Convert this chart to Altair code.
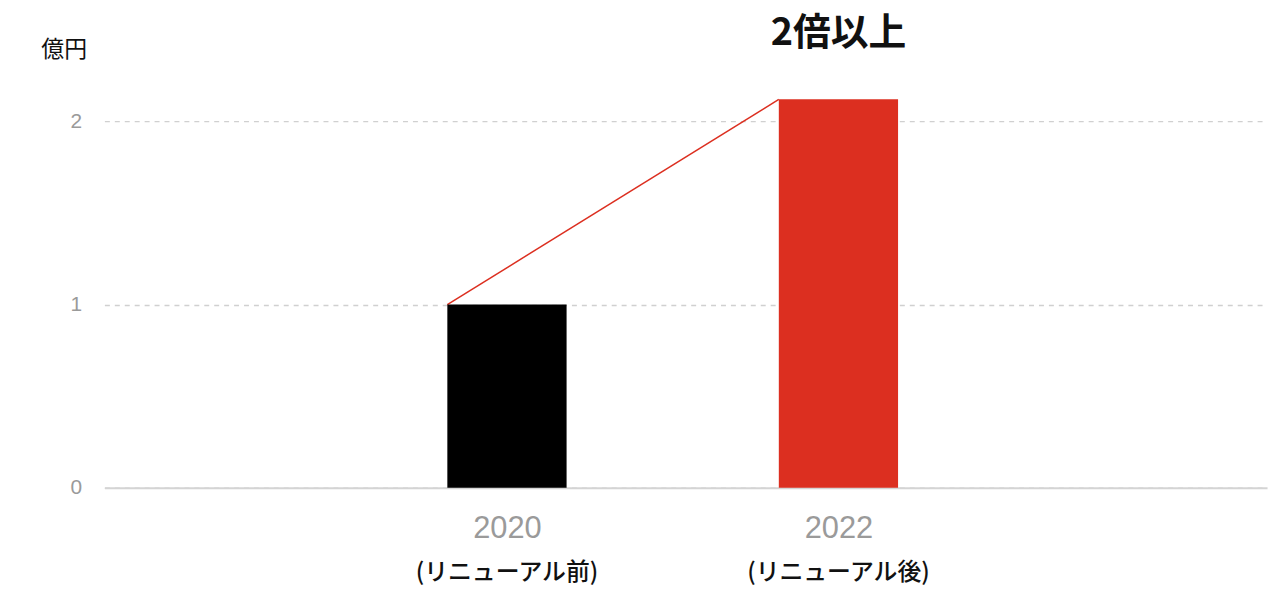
import altair as alt
import pandas as pd

years = [2020, 2022]
values = [1.0, 2.12]
sublabels = ["(リニューアル前)", "(リニューアル後)"]
bar_colors = ["#000000", "#dc2f20"]
y_ticks = [0, 1, 2]
headline = "2倍以上"
unit = "億円"

df = pd.DataFrame({"year": years, "value": values, "sub": sublabels, "color": bar_colors})

JP = "Noto Sans CJK JP"
NUM = "Liberation Sans"

x_scale = alt.Scale(domain=[2017.571, 2024.586], nice=False, zero=False, padding=0)
y_scale = alt.Scale(domain=[0, 2.6085], nice=False, padding=0)

x_axis = alt.Axis(
    values=years, format="d", title=None, grid=False, ticks=False,
    labelFont=NUM, labelFontSize=31, labelColor="#9a9a9a", labelPadding=26,
    domainColor="#d4d4d4", domainWidth=2,
)
y_axis = alt.Axis(
    values=y_ticks, format="d", title=unit, titleAngle=0, titleAlign="center", titleBaseline="middle",
    titleX=-41, titleY=40, titleFont=JP, titleFontSize=23, titleFontWeight="normal",
    titleColor="#111111",
    labelFont=NUM, labelFontSize=21, labelColor="#9a9a9a", labelPadding=23,
    ticks=False, domain=False, grid=True, gridDash=[5, 5], gridColor="#d0d0d0", gridWidth=1.5,
)

base = alt.Chart(df)

bars = base.mark_bar(size=120).encode(
    x=alt.X("year:Q", scale=x_scale, axis=x_axis),
    y=alt.Y("value:Q", scale=y_scale, axis=y_axis),
    color=alt.Color("color:N", scale=None),
)

line = base.mark_line(color="#dc2f20", strokeWidth=1.5, xOffset=-60).encode(
    x=alt.X("year:Q", scale=x_scale),
    y=alt.Y("value:Q", scale=y_scale),
)

subs = base.mark_text(font=JP, fontSize=24, fontWeight=500, color="#111111",
                      baseline="middle", align="center").encode(
    x=alt.X("year:Q", scale=x_scale),
    y=alt.value(567),
    text="sub:N",
)

head_df = pd.DataFrame({"year": [years[-1]], "t": [headline]})
head = alt.Chart(head_df).mark_text(font=JP, fontSize=38, fontWeight="bold", color="#111111",
                                    baseline="middle", align="center").encode(
    x=alt.X("year:Q", scale=x_scale),
    y=alt.value(24),
    text="t:N",
)

chart = alt.layer(line, bars, subs, head).properties(
    width=1170, height=481,
    background="white",
    autosize=alt.AutoSizeParams(type="none"),
    padding={"left": 97, "top": 0, "right": 5, "bottom": 103},
).configure_view(stroke=None, strokeWidth=0)

chart.save("out.html", embed_options={"renderer": "svg", "actions": False})
